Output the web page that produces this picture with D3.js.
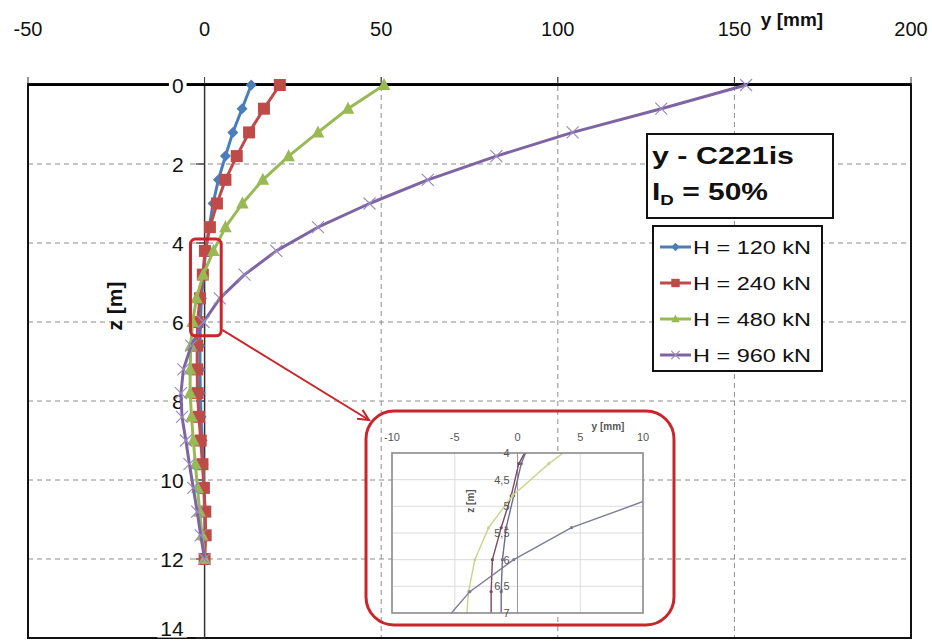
<!DOCTYPE html>
<html><head><meta charset="utf-8">
<script src="https://cdn.jsdelivr.net/npm/d3@7"></script>
<style>body{margin:0;background:#fff}svg{display:block;font-family:"Liberation Sans",Arial,sans-serif}</style>
</head><body><svg id="c" width="932" height="641"></svg>
<script>
// ---- data ----
const depths = [0,0.6,1.2,1.8,2.4,3.0,3.6,4.2,4.8,5.4,6.0,6.6,7.2,7.8,8.4,9.0,9.6,10.2,10.8,11.4,12.0];
const h120 = [13.2,10.6,8.0,5.9,3.9,2.4,1.3,0.3,-0.3,-0.9,-1.2,-1.3,-1.3,-1.2,-1.0,-0.7,-0.4,-0.2,0.0,0.1,0.0];
const h240 = [21.3,16.8,12.6,9.1,5.9,3.5,1.5,0.1,-0.5,-1.3,-2.0,-2.1,-2.1,-2.0,-1.6,-1.1,-0.6,-0.2,0.2,0.3,0.0];
const h480 = [50.8,40.6,32.1,23.8,16.5,10.7,5.9,2.5,-0.4,-2.3,-3.4,-3.9,-4.1,-4.1,-3.7,-3.2,-2.6,-2.0,-1.4,-0.7,0.0];
const h960 = [153.3,129.3,104.2,82.6,63.2,46.7,32.1,20.3,11.3,4.3,-0.3,-3.8,-6.0,-6.7,-6.4,-5.3,-4.3,-3.2,-2.1,-1.1,0.0];
const seriesNames = ["H = 120 kN","H = 240 kN","H = 480 kN","H = 960 kN"];
const yTicks = [-50,0,50,100,150,200];
const zTicks = [0,2,4,6,8,10,12,14];
const insetYTicks = [-10,-5,0,5,10];
const insetZTicks = [4,4.5,5,5.5,6,6.5,7];
const insetZLabels = ["4","4,5","5","5,5","6","6,5","7"];

const series = [
  {name:seriesNames[0], vals:h120, color:"#4a7ebb", inset:"#6f6d8f", marker:"diamond"},
  {name:seriesNames[1], vals:h240, color:"#be4b48", inset:"#7d4a5a", marker:"square"},
  {name:seriesNames[2], vals:h480, color:"#98b954", inset:"#c9d48e", marker:"triangle"},
  {name:seriesNames[3], vals:h960, color:"#7e64a2", inset:"#7c7c96", marker:"cross"}
];

const svg = d3.select("#c");
const x = d3.scaleLinear().domain([-50,200]).range([28,911]);
const z = d3.scaleLinear().domain([0,14]).range([85,638]);

// gridlines
const g = svg.append("g");
g.selectAll(".vg").data([50,100,150]).join("line")
  .attr("x1",d=>x(d)).attr("x2",d=>x(d)).attr("y1",z(0)-8).attr("y2",z(14))
  .attr("stroke","#8c8c8c").attr("stroke-width",1).attr("stroke-dasharray","5,4");
g.selectAll(".hg").data([2,4,6,8,10,12]).join("line")
  .attr("x1",x(-50)).attr("x2",x(200)).attr("y1",d=>z(d)).attr("y2",d=>z(d))
  .attr("stroke","#8c8c8c").attr("stroke-width",1).attr("stroke-dasharray","5,4");

// frame
svg.append("rect").attr("x",x(-50)).attr("y",z(0)-1).attr("width",x(200)-x(-50)).attr("height",z(14)-z(0)+1)
  .attr("fill","none").attr("stroke","#111").attr("stroke-width",2);
svg.selectAll(".tt").data(yTicks).join("line")
  .attr("x1",d=>x(d)).attr("x2",d=>x(d)).attr("y1",z(0)-8).attr("y2",z(0))
  .attr("stroke","#333").attr("stroke-width",1);
svg.append("line").attr("x1",x(0)).attr("x2",x(0)).attr("y1",z(0)).attr("y2",z(14))
  .attr("stroke","#333").attr("stroke-width",1.5);
svg.selectAll(".zt").data(zTicks).join("line")
  .attr("x1",x(0)-9).attr("x2",x(0)).attr("y1",d=>z(d)).attr("y2",d=>z(d))
  .attr("stroke","#333").attr("stroke-width",1.2);
svg.append("line").attr("x1",x(-50)).attr("x2",x(200)).attr("y1",z(0)).attr("y2",z(0))
  .attr("stroke","#000").attr("stroke-width",2.2);

// top tick labels
svg.selectAll(".tl").data(yTicks).join("text")
  .attr("x",d=>x(d)).attr("y",36).attr("text-anchor","middle")
  .attr("font-size",20).attr("fill","#111").text(d=>d);
svg.append("text").attr("x",792).attr("y",26).attr("text-anchor","middle")
  .attr("font-size",19).attr("font-weight","bold").attr("fill","#111").text("y [mm]");

// z tick labels with white backgrounds
const zl = svg.append("g");
zTicks.forEach(d=>{
  const yy = d===14 ? z(d)-10 : z(d);
  const t = zl.append("text").attr("x",x(0)-21).attr("y",yy).attr("dy","0.36em")
    .attr("text-anchor","end").attr("font-size",21).attr("fill","#111").text(d);
  const b = t.node().getBBox();
  zl.insert("rect","text").attr("x",b.x-3).attr("y",b.y+2).attr("width",b.width+6).attr("height",b.height-4).attr("fill","#fff");
});
svg.append("text").attr("transform",`translate(122,306) rotate(-90)`).attr("text-anchor","middle")
  .attr("font-size",21).attr("font-weight","bold").attr("fill","#111").text("z [m]");

// markers
function marker(sel, type, color, s){
  if(type==="diamond") sel.append("path").attr("d",`M0,${-s}L${s},0L0,${s}L${-s},0Z`).attr("fill",color);
  else if(type==="square") sel.append("rect").attr("x",-s).attr("y",-s).attr("width",2*s).attr("height",2*s).attr("fill",color);
  else if(type==="triangle") sel.append("path").attr("d",`M0,${-s*1.1}L${s},${s*0.8}L${-s},${s*0.8}Z`).attr("fill",color);
  else sel.append("path").attr("d",`M${-s},${-s}L${s},${s}M${-s},${s}L${s},${-s}`).attr("stroke","#9a8cc0").attr("stroke-width",1.2).attr("fill","none");
}
const msize = {diamond:5.5, square:6, triangle:6.3, cross:6};

// series
const line = d3.line().x(d=>x(d[0])).y(d=>z(d[1]));
series.forEach(s=>{
  const pts = s.vals.map((v,i)=>[v,depths[i]]);
  svg.append("path").datum(pts).attr("d",line).attr("fill","none")
    .attr("stroke",s.color).attr("stroke-width",3).attr("stroke-linejoin","round");
  pts.forEach(p=>{
    const gm = svg.append("g").attr("transform",`translate(${x(p[0])},${z(p[1])})`);
    marker(gm, s.marker, s.color, msize[s.marker]);
  });
});

// small zoom rectangle and arrow
svg.append("rect").attr("x",x(-4)).attr("y",z(3.9)).attr("width",x(4.7)-x(-4)).attr("height",z(6.35)-z(3.9)).attr("rx",5)
  .attr("fill","none").attr("stroke","#c8262b").attr("stroke-width",3);
const ax1 = x(5), ay1 = z(6.2), ax2 = 369, ay2 = 420;
svg.append("line").attr("x1",ax1).attr("y1",ay1).attr("x2",ax2).attr("y2",ay2).attr("stroke","#c8262b").attr("stroke-width",2);
{
  const ang = Math.atan2(ay2-ay1, ax2-ax1), L=12, w=0.45;
  svg.append("path").attr("d",`M${ax2-L*Math.cos(ang-w)},${ay2-L*Math.sin(ang-w)}L${ax2},${ay2}L${ax2-L*Math.cos(ang+w)},${ay2-L*Math.sin(ang+w)}`)
    .attr("fill","none").attr("stroke","#c8262b").attr("stroke-width",2);
}

// inset
const ix = d3.scaleLinear().domain([-10,10]).range([392,643]);
const iz = d3.scaleLinear().domain([4,7]).range([453,613]);
const ins = svg.append("g");
ins.append("rect").attr("x",ix(-10)).attr("y",iz(4)).attr("width",ix(10)-ix(-10)).attr("height",iz(7)-iz(4)).attr("fill","#fff");
ins.selectAll(".ivg").data([-5,5]).join("line").attr("x1",d=>ix(d)).attr("x2",d=>ix(d)).attr("y1",iz(4)).attr("y2",iz(7))
  .attr("stroke","#dcdcdc").attr("stroke-width",1);
ins.selectAll(".ihg").data([4.5,5,5.5,6,6.5]).join("line").attr("x1",ix(-10)).attr("x2",ix(10)).attr("y1",d=>iz(d)).attr("y2",d=>iz(d))
  .attr("stroke","#dcdcdc").attr("stroke-width",1);
ins.append("line").attr("x1",ix(0)).attr("x2",ix(0)).attr("y1",iz(4)).attr("y2",iz(7)).attr("stroke","#9a9a9a").attr("stroke-width",1);
svg.append("clipPath").attr("id","ic").append("rect").attr("x",ix(-10)).attr("y",iz(4)).attr("width",ix(10)-ix(-10)).attr("height",iz(7)-iz(4));
const iline = d3.line().x(d=>ix(d[0])).y(d=>iz(d[1]));
const ig = ins.append("g").attr("clip-path","url(#ic)");
series.forEach(s=>{
  const pts = s.vals.map((v,i)=>[v,depths[i]]);
  ig.append("path").datum(pts).attr("d",iline).attr("fill","none").attr("stroke",s.inset).attr("stroke-width",1.4);
  ig.selectAll(null).data(pts).join("circle").attr("cx",d=>ix(d[0])).attr("cy",d=>iz(d[1])).attr("r",1.6).attr("fill",s.inset);
});
ins.append("rect").attr("x",ix(-10)).attr("y",iz(4)).attr("width",ix(10)-ix(-10)).attr("height",iz(7)-iz(4))
  .attr("fill","none").attr("stroke","#8a8a8a").attr("stroke-width",1.6);
ins.selectAll(".ixl").data(insetYTicks).join("text").attr("x",d=>ix(d)).attr("y",441).attr("text-anchor","middle")
  .attr("font-size",11).attr("fill","#555").text(d=>d);
ins.append("text").attr("x",608).attr("y",430).attr("text-anchor","middle").attr("font-size",10).attr("font-weight","bold").attr("fill","#555").text("y [mm]");
insetZTicks.forEach((d,i)=>{
  ins.append("text").attr("x",ix(0)-8).attr("y",iz(d)).attr("dy","0.36em").attr("text-anchor","end")
    .attr("font-size",11).attr("fill","#555").text(insetZLabels[i]);
});
ins.append("text").attr("transform",`translate(474,501) rotate(-90)`).attr("text-anchor","middle")
  .attr("font-size",10).attr("font-weight","bold").attr("fill","#555").text("z [m]");
svg.append("rect").attr("x",366).attr("y",411).attr("width",308).attr("height",214).attr("rx",28)
  .attr("fill","none").attr("stroke","#c8262b").attr("stroke-width",3);

// title box
svg.append("rect").attr("x",647).attr("y",134).attr("width",186).attr("height",84).attr("fill","#fff").attr("stroke","#111").attr("stroke-width",2);
svg.append("text").attr("x",652).attr("y",164).attr("font-size",24).attr("font-weight","bold").attr("fill","#111")
  .attr("textLength",142).attr("lengthAdjust","spacingAndGlyphs").text("y - C221is");
const t2 = svg.append("text").attr("x",652).attr("y",200).attr("font-size",24).attr("font-weight","bold").attr("fill","#111")
  .attr("textLength",116).attr("lengthAdjust","spacingAndGlyphs");
t2.append("tspan").text("I");
t2.append("tspan").attr("font-size",15).attr("dy",5).text("D");
t2.append("tspan").attr("dy",-5).text(" = 50%");

// legend
svg.append("rect").attr("x",653).attr("y",226).attr("width",169).attr("height",145).attr("fill","#fff").attr("stroke","#111").attr("stroke-width",2);
series.forEach((s,i)=>{
  const yy = 247 + i*36;
  svg.append("line").attr("x1",660).attr("x2",691).attr("y1",yy).attr("y2",yy).attr("stroke",s.color).attr("stroke-width",3);
  const gm = svg.append("g").attr("transform",`translate(675.5,${yy})`);
  marker(gm, s.marker, s.color, 4.2);
  svg.append("text").attr("x",693).attr("y",yy).attr("dy","0.36em").attr("font-size",19).attr("fill","#111")
    .attr("textLength",118).attr("lengthAdjust","spacingAndGlyphs").text(s.name);
});
</script></body></html>
